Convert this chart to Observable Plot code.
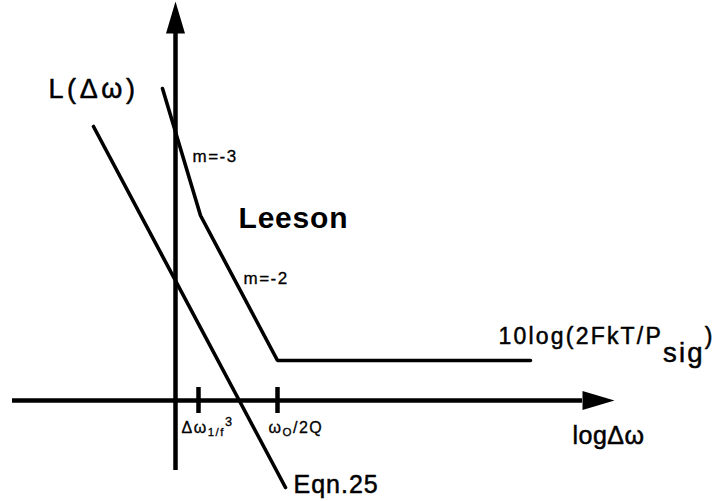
<!DOCTYPE html>
<html>
<head>
<meta charset="utf-8">
<script src="https://cdn.jsdelivr.net/npm/d3@7"></script>
<script src="https://cdn.jsdelivr.net/npm/@observablehq/plot@0.6"></script>
<style>
  html, body { margin: 0; padding: 0; background: #fff; }
  #chart svg { display: block; }
</style>
</head>
<body>
<div id="chart"></div>
<script>
// Schematic of oscillator phase noise L(Δω) against log Δω (arbitrary units,
// one unit of x and y spans the same length so the slopes read true).

// Leeson model: m = -3 region, m = -2 region, then the flat noise floor
const leesonX = [-0.52, 1.0, 4.08, 14.2];
const leesonY = [12.48, 7.4, 1.6, 1.6];

// Eqn. 25 asymptote
const eqn25X = [-3.28, 4.4];
const eqn25Y = [10.96, -3.48];

// Axis extents (shaft ends, before the arrowheads)
const xAxisSpan = [-6.52, 16.28];
const yAxisSpan = [-2.8, 14.68];

// Corner frequencies marked on the log Δω axis
const tickX = [0.92, 4.08];
const tickLabels = ["Δω_{1/f}^{3}", "ω_{O}/2Q"];
const tickLabelX = [0.24, 3.72];
const tickLabelY = [-1.08, -1.08];

// Annotations
const bigLabels = ["L(Δω)", "Leeson", "Eqn.25", "logΔω"];
const bigLabelX = [-5.08, 2.52, 4.72, 15.88];
const bigLabelY = [12.44, 7.28, -3.36, -1.4];

const slopeLabels = ["m=-3", "m=-2"];
const slopeLabelX = [0.68, 2.72];
const slopeLabelY = [9.76, 4.88];

const floorLabel = ["10log(2FkT/P_{sig})"];
const floorLabelX = [12.92];
const floorLabelY = [2.56];

const leeson = leesonX.map((x, i) => ({x, y: leesonY[i]}));
const eqn25 = eqn25X.map((x, i) => ({x, y: eqn25Y[i]}));
const ticks = tickX.map((x, i) => ({x, label: tickLabels[i], lx: tickLabelX[i], ly: tickLabelY[i]}));
const big = bigLabels.map((t, i) => ({t, x: bigLabelX[i], y: bigLabelY[i]}));
const slopes = slopeLabels.map((t, i) => ({t, x: slopeLabelX[i], y: slopeLabelY[i]}));
const floor = floorLabel.map((t, i) => ({t, x: floorLabelX[i], y: floorLabelY[i]}));
const arrowheads = [
  {x: xAxisSpan[1], y: 0, rotate: 90},
  {x: 0, y: yAxisSpan[1], rotate: 0}
];

// Filled, elongated arrowhead whose base sits at the origin
const arrowHead = {
  draw(context) {
    context.moveTo(0, -32);
    context.lineTo(9.5, 0);
    context.lineTo(-9.5, 0);
    context.closePath();
  }
};

const font = "'Liberation Sans', Arial, Helvetica, sans-serif";
// slightly heavier lettering
const ink = {fill: "black", stroke: "black", strokeWidth: 0.5};

const chart = Plot.plot({
  width: 716,
  height: 501,
  margin: 0,
  x: {domain: [-7, 21.64], axis: null},
  y: {domain: [-4.04, 16], axis: null},
  style: {fontFamily: font, background: "white", color: "black"},
  marks: [
    Plot.ruleY([0], {x1: xAxisSpan[0], x2: xAxisSpan[1], stroke: "black", strokeWidth: 4.5}),
    Plot.ruleX([0], {y1: yAxisSpan[0], y2: yAxisSpan[1], stroke: "black", strokeWidth: 4.5}),
    Plot.dot(arrowheads, {x: "x", y: "y", rotate: "rotate", symbol: arrowHead, fill: "black", stroke: "none"}),
    Plot.ruleX(ticks, {x: "x", y1: -0.52, y2: 0.52, stroke: "black", strokeWidth: 4.5}),
    Plot.line(leeson, {x: "x", y: "y", stroke: "black", strokeWidth: 3.6, strokeLinejoin: "miter", strokeLinecap: "round"}),
    Plot.line(eqn25, {x: "x", y: "y", stroke: "black", strokeWidth: 3.6, strokeLinecap: "round"}),
    Plot.text(ticks, {x: "lx", y: "ly", text: "label", fontSize: 16, textAnchor: "start", lineAnchor: "middle", ...ink, strokeWidth: 0.3}),
    Plot.text(big.filter(d => d.t === "L(Δω)"), {x: "x", y: "y", text: "t", fontSize: 27, textAnchor: "start", lineAnchor: "middle", ...ink}),
    Plot.text(big.filter(d => d.t === "Leeson"), {x: "x", y: "y", text: "t", fontSize: 30, fontWeight: "bold", textAnchor: "start", lineAnchor: "middle", fill: "black"}),
    Plot.text(big.filter(d => d.t === "Eqn.25" || d.t === "logΔω"), {x: "x", y: "y", text: "t", fontSize: 25, textAnchor: "start", lineAnchor: "middle", ...ink}),
    Plot.text(slopes, {x: "x", y: "y", text: "t", fontSize: 17, textAnchor: "start", lineAnchor: "middle", ...ink, strokeWidth: 0.3}),
    Plot.text(floor, {x: "x", y: "y", text: "t", fontSize: 23, textAnchor: "start", lineAnchor: "middle", ...ink})
  ]
});

// Letter spacing of the wide, loosely set lettering
const spacing = {
  "L(Δω)": 3.6, "Leeson": 0.8, "Eqn.25": 1, "logΔω": 0.5,
  "m=-3": 1.5, "m=-2": 1.5,
  "Δω_{1/f}^{3}": 1.5, "ω_{O}/2Q": 1.5, "10log(2FkT/P_{sig})": 2.2
};

// Turn "_{...}" and "^{...}" into shifted, resized tspans
function richText(node, base, sub, sup) {
  const src = node.textContent;
  node.textContent = "";
  const re = /([_^])\{([^}]*)\}|([^_^]+)/g;
  let m, shift = 0;
  while ((m = re.exec(src))) {
    const kind = m[1] === "_" ? sub : m[1] === "^" ? sup : {scale: 1, shift: 0};
    const t = document.createElementNS("http://www.w3.org/2000/svg", "tspan");
    t.textContent = m[1] ? m[2] : m[3];
    t.setAttribute("font-size", base * kind.scale);
    if (kind.shift !== shift) t.setAttribute("dy", kind.shift - shift);
    shift = kind.shift;
    node.appendChild(t);
  }
}

d3.select(chart).selectAll("text").each(function () {
  const src = this.textContent;
  if (spacing[src] != null) this.setAttribute("letter-spacing", spacing[src]);
  if (!/[_^]\{/.test(src)) return;
  if (src.includes("sig")) richText(this, 23, {scale: 1.2, shift: 18}, {scale: 1, shift: 0});
  else richText(this, 16, {scale: 0.72, shift: 3.5}, {scale: 0.8, shift: -7});
});

document.getElementById("chart").appendChild(chart);
</script>
</body>
</html>
